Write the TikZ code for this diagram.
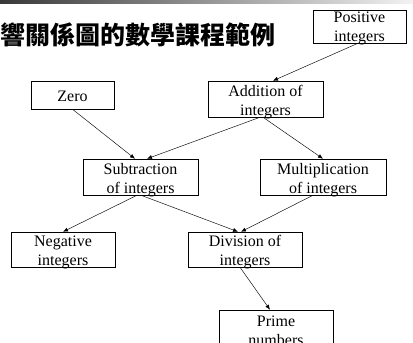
\documentclass[tikz,border=0pt]{standalone}
\usepackage{fontspec}
\setmainfont{Liberation Serif}
\newfontfamily\cjktitle{Noto Sans CJK TC}
\usetikzlibrary{arrows.meta}
\tikzset{
  concept/.style={draw, line width=0.5pt, inner sep=0pt},
  caption/.style={inner sep=0pt, align=center, font=\fontsize{16}{19}\selectfont},
  dep/.style={line width=0.45pt, -{Latex[length=5pt,width=4pt]}},
}
\begin{document}
\begin{tikzpicture}[x=1pt,y=-1pt]
\useasboundingbox (0,0) rectangle (413,343);
\clip (0,0) rectangle (413,343);
% header strip
\shade[left color=black!78, right color=black!5] (0,0) rectangle (413,3);
% title
\node[anchor=west, inner sep=0pt, font=\cjktitle\bfseries\fontsize{25}{27}\selectfont] (title) at (0,35) {響關係圖的數學課程範例};
% concept boxes
\node[concept, minimum width=93pt, minimum height=33pt] (pos) at (359.5,26.5) {};
\node[concept, minimum width=83pt, minimum height=28pt] (zero) at (72.5,95) {};
\node[concept, minimum width=115pt, minimum height=36pt] (add) at (265.5,99) {};
\node[concept, minimum width=115pt, minimum height=36pt] (sub) at (140.5,177) {};
\node[concept, minimum width=126pt, minimum height=36pt] (mul) at (323,177) {};
\node[concept, minimum width=104pt, minimum height=35pt] (neg) at (63,249.5) {};
\node[concept, minimum width=114pt, minimum height=35pt] (div) at (245,249.5) {};
\node[concept, minimum width=114pt, minimum height=35pt] (prime) at (276,327.5) {};
% captions, set a little below each box centre
\node[caption] (posT) at ([yshift=-2pt]pos.center) {Positive\\integers};
\node[caption] (zeroT) at ([yshift=-1pt]zero.center) {Zero};
\node[caption] (addT) at ([yshift=-3pt]add.center) {Addition of\\integers};
\node[caption] (subT) at ([yshift=-3pt]sub.center) {Subtraction\\of integers};
\node[caption] (mulT) at ([yshift=-3pt]mul.center) {Multiplication\\of integers};
\node[caption] (negT) at ([yshift=-3pt]neg.center) {Negative\\integers};
\node[caption] (divT) at ([yshift=-3pt]div.center) {Division of\\integers};
\node[caption] (primeT) at ([yshift=-3pt]prime.center) {Prime\\numbers};
% dependencies
\draw[dep] ([xshift=-1.5pt]pos.south) -- ([xshift=7.5pt]add.north);
\draw[dep] (zero.south) -- ([xshift=-5.5pt]sub.north);
\draw[dep] ([xshift=-5.5pt]add.south) -- ([xshift=6.5pt]sub.north);
\draw[dep] ([xshift=-2.5pt]add.south) -- (mul.north);
\draw[dep] ([xshift=-3.5pt]sub.south) -- (neg.north);
\draw[dep] ([xshift=0.5pt]sub.south) -- ([xshift=-7pt]div.north);
\draw[dep] ([xshift=-10pt]mul.south) -- ([xshift=-4pt]div.north);
\draw[dep] ([xshift=-5pt]div.south) -- ([xshift=-6pt]prime.north);
\end{tikzpicture}
\end{document}
